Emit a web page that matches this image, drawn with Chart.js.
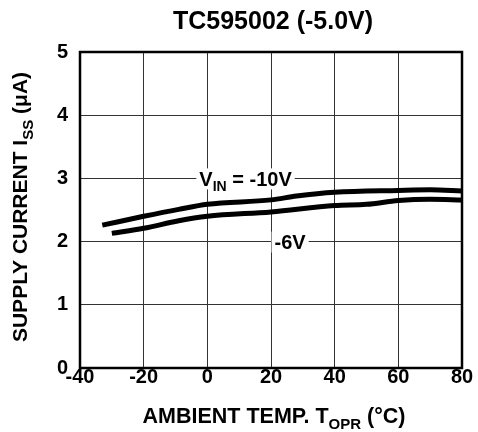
<!DOCTYPE html>
<html>
<head>
<meta charset="utf-8">
<script src="https://cdn.jsdelivr.net/npm/chart.js@4.4.0/dist/chart.umd.min.js"></script>
<style>
html, body { margin:0; padding:0; background:#fff; }
</style>
</head>
<body>
<canvas id="canvas-chart-line-supply-current" width="478" height="432"></canvas>
<script>
// datos (temperatura en C, corriente en uA)
var tempVin10=[-33,-20,-9,0,20,28,40,60,70,80];
var currVin10=[2.26,2.40,2.51,2.59,2.66,2.72,2.78,2.81,2.82,2.80];
var tempVin6=[-30,-20,-9,0,20,40,50,60,70,80];
var currVin6=[2.13,2.21,2.33,2.40,2.47,2.57,2.59,2.65,2.67,2.66];
var xTicks=[-40,-20,0,20,40,60,80];
var yTicks=[0,1,2,3,4,5];

var fuente='"Liberation Sans", Arial, sans-serif';

function pares(xs, ys){
	return xs.map(function(x, i){ return {x: x, y: ys[i]}; });
}

// dibuja texto con partes en subindice, centrado en x
function textoSub(ctx, partes, x, y, size){
	var total=0;
	partes.forEach(function(p){
		ctx.font='bold '+(p[1] ? Math.round(size*0.72) : size)+'px '+fuente;
		p.w=ctx.measureText(p[0]).width;
		total+=p.w;
	});
	var cx=x-total/2;
	partes.forEach(function(p){
		ctx.font='bold '+(p[1] ? Math.round(size*0.72) : size)+'px '+fuente;
		ctx.fillText(p[0], cx, p[1] ? y+size*0.28 : y);
		cx+=p.w;
	});
	return total;
}

var textosPlugin = {
	id: 'textos',
	afterDatasetsDraw: function(chart, args, opts){
		var ctx=chart.ctx, a=chart.chartArea, sx=chart.scales.x, sy=chart.scales.y;
		ctx.save();
		ctx.strokeStyle='#000';
		ctx.lineWidth=2.5;
		ctx.strokeRect(a.left, a.top, a.right-a.left, a.bottom-a.top);

		ctx.fillStyle='#000';
		ctx.textBaseline='alphabetic';
		ctx.textAlign='left';

		// etiquetas de las curvas
		opts.etiquetas.forEach(function(e){
			var px=sx.getPixelForValue(e.x), py=sy.getPixelForValue(e.y);
			var w=0;
			e.partes.forEach(function(p){
				ctx.font='bold '+(p[1] ? Math.round(e.size*0.72) : e.size)+'px '+fuente;
				w+=ctx.measureText(p[0]).width;
			});
			ctx.fillStyle='#fff';
			ctx.fillRect(px-w/2-3, py-e.size*0.5, w+6, e.size*1.05);
			ctx.fillStyle='#000';
			textoSub(ctx, e.partes, px, py+e.size*0.36, e.size);
		});

		// titulo
		ctx.font='bold 25px '+fuente;
		ctx.textAlign='center';
		ctx.fillText('TC595002 (-5.0V)', (a.left+a.right)/2+2, 29);
		ctx.textAlign='left';

		// titulo eje x
		textoSub(ctx, [['AMBIENT TEMP. T',0],['OPR',1],[' (\u00B0C)',0]], (a.left+a.right)/2+3, 423, 21.5);

		// titulo eje y
		ctx.save();
		ctx.translate(27, (a.top+a.bottom)/2-3);
		ctx.rotate(-Math.PI/2);
		textoSub(ctx, [['SUPPLY CURRENT I',0],['SS',1],[' (\u03BCA)',0]], 0, 0, 21);
		ctx.restore();
		ctx.restore();
	}
};

const canvasSupply = document.getElementById('canvas-chart-line-supply-current').getContext('2d');
var chartSupply = new Chart(canvasSupply, {
	type: 'line',
	data: {
		datasets: [{
			label: 'VIN = -10V',
			data: pares(tempVin10, currVin10),
			borderColor: '#000',
			borderWidth: 5,
			pointRadius: 0,
			fill: false,
			cubicInterpolationMode: 'monotone'
		},
		{
			label: '-6V',
			data: pares(tempVin6, currVin6),
			borderColor: '#000',
			borderWidth: 5,
			pointRadius: 0,
			fill: false,
			cubicInterpolationMode: 'monotone'
		}]
	},
	options: {
		responsive: false,
		animation: false,
		devicePixelRatio: 1,
		layout: {
			padding: {top: 52, left: 40, right: 16, bottom: 34}
		},
		plugins: {
			legend: {display: false},
			tooltip: {enabled: false},
			textos: {
				etiquetas: [
					{partes: [['V',0],['IN',1],[' = -10V',0]], x: 12, y: 3, size: 20},
					{partes: [['-6V',0]], x: 26, y: 2, size: 20}
				]
			}
		},
		scales: {
			x: {
				type: 'linear',
				min: -40,
				max: 80,
				afterBuildTicks: function(s){ s.ticks=xTicks.map(function(v){ return {value: v}; }); },
				afterFit: function(s){ s.height=30; },
				grid: {color: '#333', lineWidth: 1, drawTicks: false},
				border: {display: false},
				ticks: {
					color: '#000',
					padding: -1,
					maxRotation: 0,
					font: {family: fuente, size: 20, weight: 'bold', lineHeight: 1}
				}
			},
			y: {
				min: 0,
				max: 5,
				afterBuildTicks: function(s){ s.ticks=yTicks.map(function(v){ return {value: v}; }); },
				afterFit: function(s){ s.width=40; },
				grid: {color: '#333', lineWidth: 1, drawTicks: false},
				border: {display: false},
				ticks: {
					color: '#000',
					padding: 12,
					font: {family: fuente, size: 20, weight: 'bold', lineHeight: 1}
				}
			}
		}
	},
	plugins: [textosPlugin]
});
</script>
</body>
</html>
